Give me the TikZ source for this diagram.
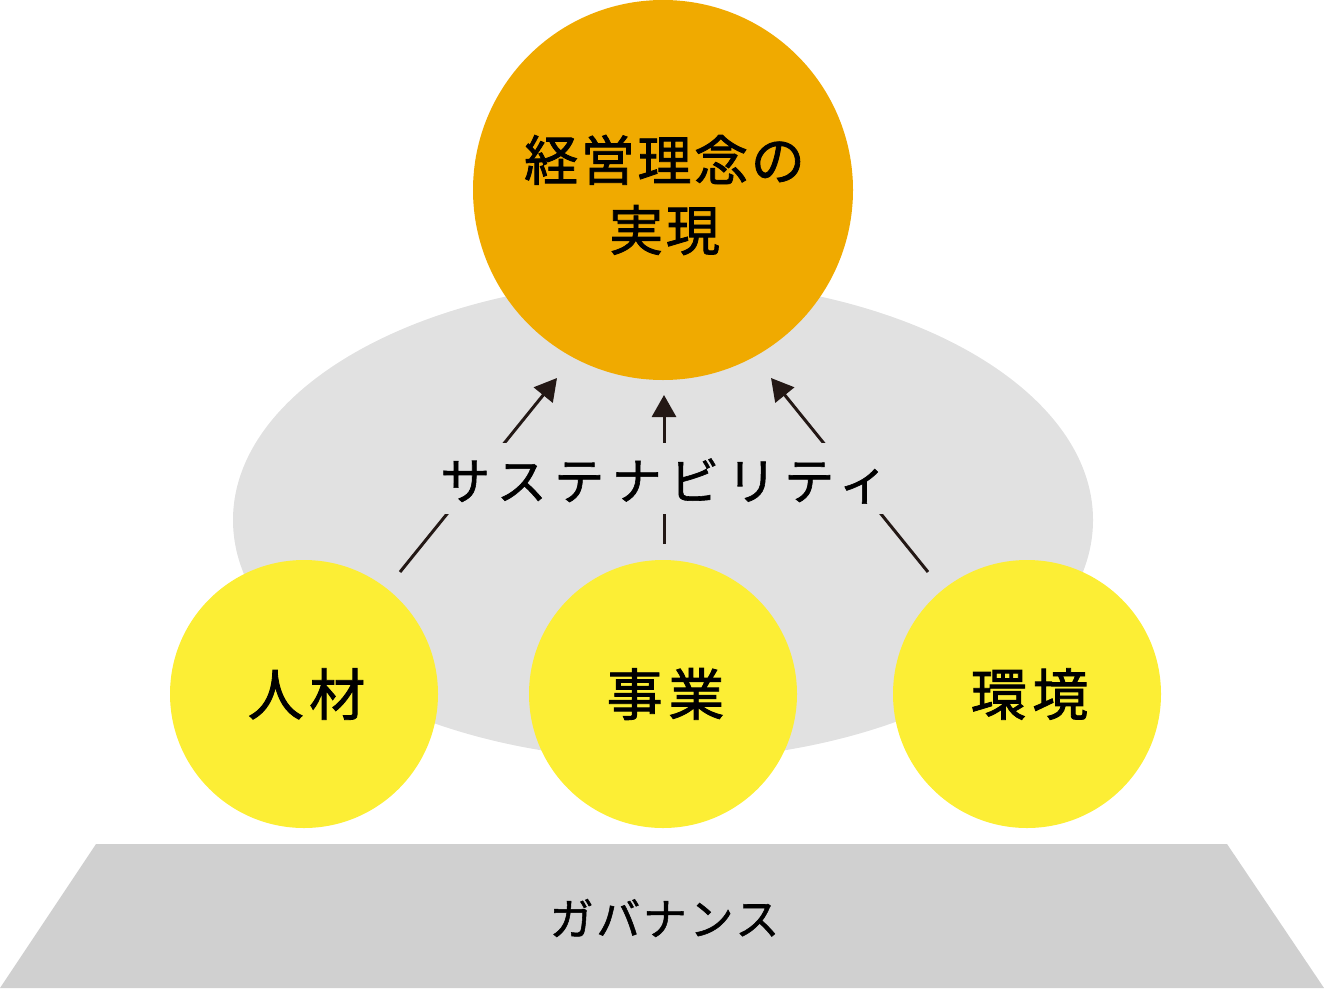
\documentclass[tikz,border=0pt]{standalone}
\usepackage{fontspec}
\usetikzlibrary{arrows.meta}
\newfontfamily\jptitle[LetterSpace=5,FakeBold=1.5]{Noto Sans CJK JP}
\newfontfamily\jpsus[LetterSpace=15,FakeBold=1.2]{Noto Sans CJK JP}
\newfontfamily\jpitem[LetterSpace=10,FakeBold=1.5]{Noto Sans CJK JP}
\newfontfamily\jpgov[LetterSpace=6,FakeBold=1.2]{Noto Sans CJK JP}
\definecolor{ellgray}{HTML}{E1E1E1}
\definecolor{basegray}{HTML}{D0D0D0}
\definecolor{orangec}{HTML}{F0AA00}
\definecolor{yellowc}{HTML}{FCEE35}
\definecolor{arrowc}{HTML}{231815}
\tikzset{
  ball/.style={circle, inner sep=0pt, outer sep=0pt, text=black, align=center},
  topball/.style={ball, fill=orangec, minimum size=380pt},
  itemball/.style={ball, fill=yellowc, minimum size=268pt, font=\fontsize{56}{60}\selectfont\jpitem},
  flow/.style={draw=arrowc, line width=3pt, -{Triangle[width=24pt,length=22pt]}},
}
\begin{document}
\begin{tikzpicture}[x=1pt,y=-1pt]
\useasboundingbox (0,0) rectangle (1324,988);
% background ellipse
\fill[ellgray] (663,520) ellipse [x radius=430, y radius=240];
% governance base
\fill[basegray] (96,844) -- (1227,844) -- (1324,988) -- (0,988) -- cycle;
\node[inner sep=0pt, font=\fontsize{44}{48}\selectfont\jpgov] (gov) at (663,918) {\kern3pt ガバナンス};
% arrow end points
\coordinate (s1) at (400,572);
\coordinate (e1) at (557,378);
\coordinate (s2) at (664,544);
\coordinate (e2) at (664,395);
\coordinate (s3) at (928,572);
\coordinate (e3) at (771,378);
\draw[flow] (s1) -- (e1);
\draw[flow] (s2) -- (e2);
\draw[flow] (s3) -- (e3);
% sustainability label, masking the middle of the arrows
\node[fill=ellgray, inner sep=0pt, minimum width=442pt, minimum height=71pt] (sus) at (662,478.5) {};
\node[inner sep=0pt, font=\fontsize{50}{52}\selectfont\jpsus] (sustext) at (661,481) {\kern7pt サステナビリティ};
% top circle
\node[topball] (top) at (663,190) {};
\node[inner sep=0pt, align=center, font=\fontsize{54}{70}\selectfont\jptitle] (toptext) at (663,195) {\kern3pt 経営理念の\\\kern3pt 実現};
% item circles
\node[itemball] (hr) at (304,694) {\kern5pt 人材};
\node[itemball] (biz) at (663,694) {\kern5pt 事業};
\node[itemball] (env) at (1027,694) {\kern5pt 環境};
\end{tikzpicture}
\end{document}
